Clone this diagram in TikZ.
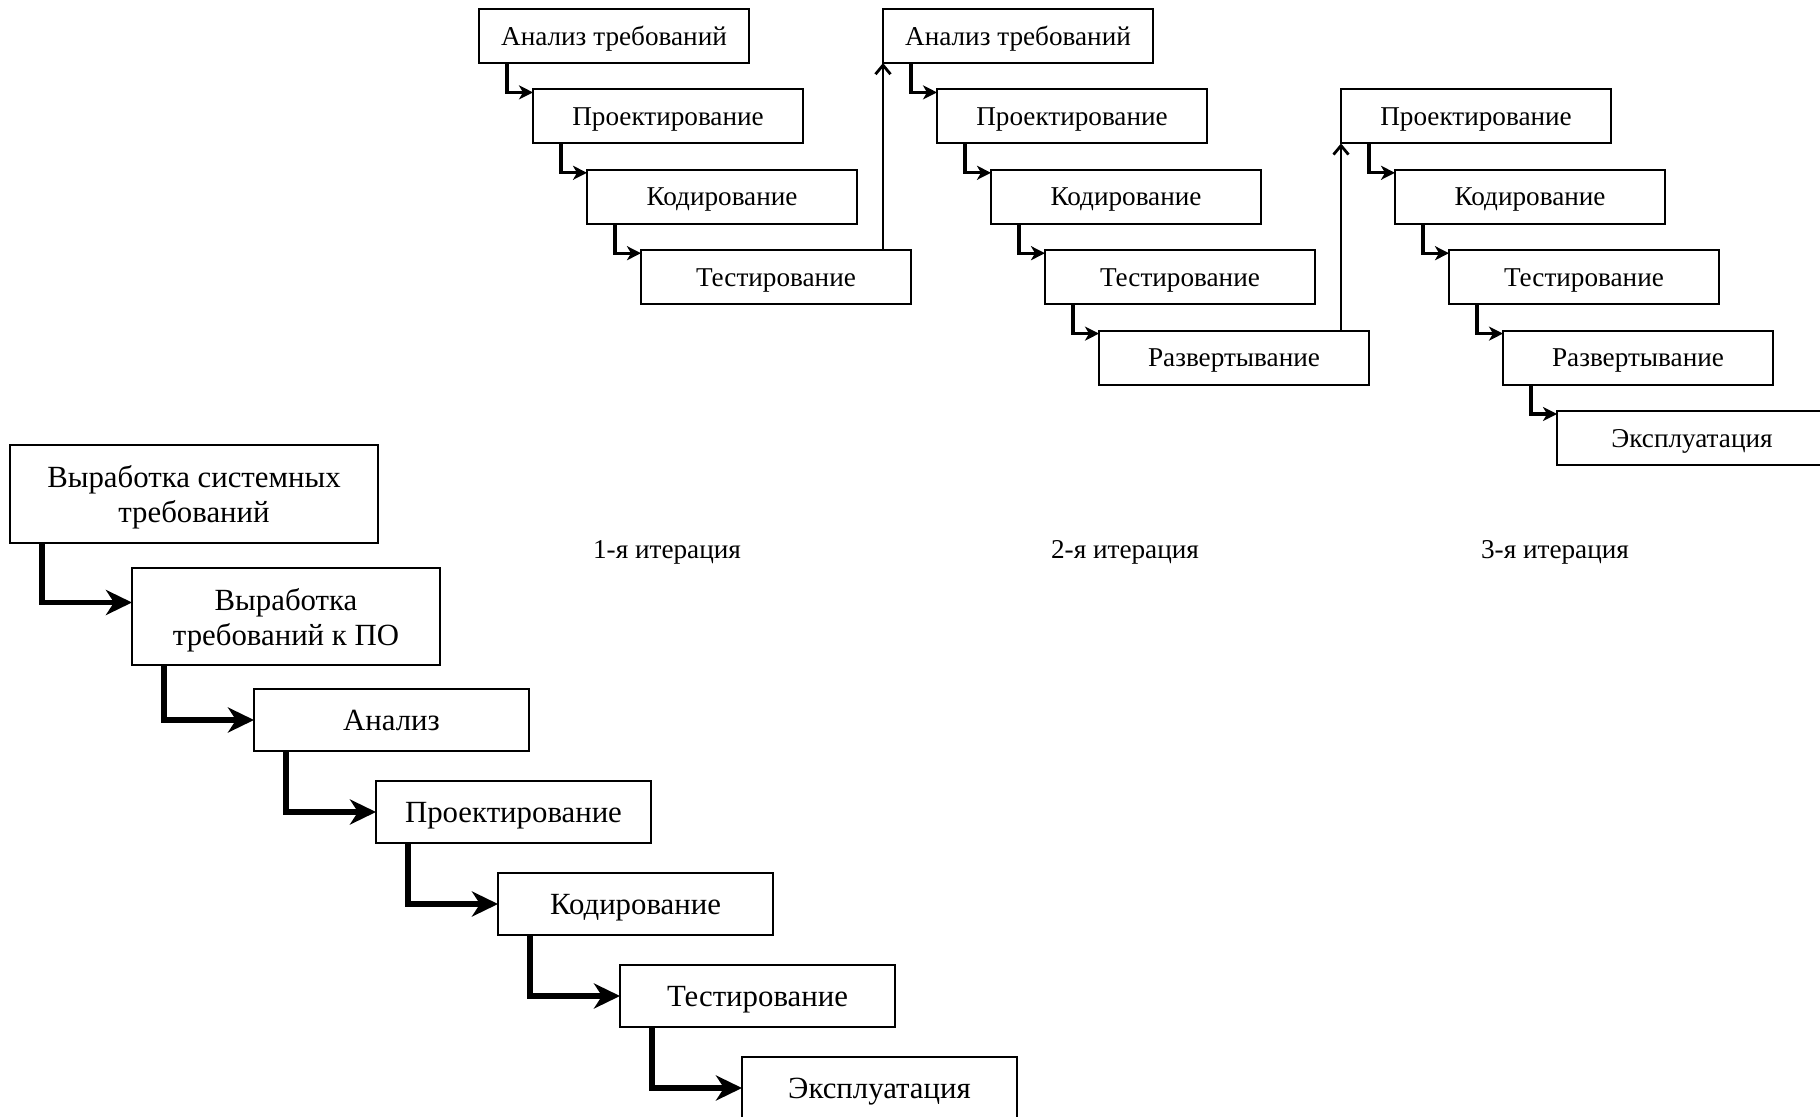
\documentclass[tikz,border=0pt]{standalone}
\usepackage{fontspec}
\setmainfont{Liberation Serif}
\usepackage{tikz}
\usetikzlibrary{arrows.meta,positioning,calc}

\begin{document}
\begin{tikzpicture}[
  stagebox/.style={draw, line width=1pt, outer sep=0pt, minimum width=135pt, minimum height=27pt, inner sep=0pt, text depth=0pt, anchor=north west, font=\fontsize{13.6}{16}\selectfont},
  waterbox/.style={draw, line width=1pt, outer sep=0pt, minimum width=137.5pt, minimum height=31pt, inner sep=0pt, text depth=0pt, anchor=north west, align=center, font=\fontsize{15.4}{17.5}\selectfont},
  steparrow/.style={line width=1.6pt, -{Stealth[length=7pt, width=7pt, inset=2pt]}},
  backarrow/.style={line width=1.4pt, -{Straight Barb[length=4.5pt, width=7.5pt]}},
  bigarrow/.style={line width=2.6pt, -{Stealth[length=13pt, width=12.5pt, inset=4pt]}},
  every node/.style={text=black}]
  \useasboundingbox (0,0) rectangle (910pt,-558.5pt);

  % iterations
  \node[stagebox] (a1) at (239.5pt,-4.5pt) {Анализ требований};
  \node[stagebox, below right=13.2pt and 27pt of a1.south west] (p1) {Проектирование};
  \node[stagebox, below right=13.2pt and 27pt of p1.south west] (k1) {Кодирование};
  \node[stagebox, below right=13.2pt and 27pt of k1.south west] (t1) {Тестирование};

  \node[stagebox, anchor=west, right=67pt of a1] (a2) {Анализ требований};
  \node[stagebox, below right=13.2pt and 27pt of a2.south west] (p2) {Проектирование};
  \node[stagebox, below right=13.2pt and 27pt of p2.south west] (k2) {Кодирование};
  \node[stagebox, below right=13.2pt and 27pt of k2.south west] (t2) {Тестирование};
  \node[stagebox, below right=13.2pt and 27pt of t2.south west] (r2) {Развертывание};

  \node[stagebox, anchor=west, right=67pt of p2] (p3) {Проектирование};
  \node[stagebox, below right=13.2pt and 27pt of p3.south west] (k3) {Кодирование};
  \node[stagebox, below right=13.2pt and 27pt of k3.south west] (t3) {Тестирование};
  \node[stagebox, below right=13.2pt and 27pt of t3.south west] (r3) {Развертывание};
  \node[stagebox, below right=13.2pt and 27pt of r3.south west] (e3) {Эксплуатация};

  \draw[steparrow] ([xshift=14pt]a1.south west) |- ([yshift=-1.5pt]p1.north west);
  \draw[steparrow] ([xshift=14pt]p1.south west) |- ([yshift=-1.5pt]k1.north west);
  \draw[steparrow] ([xshift=14pt]k1.south west) |- ([yshift=-1.5pt]t1.north west);
  \draw[steparrow] ([xshift=14pt]a2.south west) |- ([yshift=-1.5pt]p2.north west);
  \draw[steparrow] ([xshift=14pt]p2.south west) |- ([yshift=-1.5pt]k2.north west);
  \draw[steparrow] ([xshift=14pt]k2.south west) |- ([yshift=-1.5pt]t2.north west);
  \draw[steparrow] ([xshift=14pt]t2.south west) |- ([yshift=-1.5pt]r2.north west);
  \draw[steparrow] ([xshift=14pt]p3.south west) |- ([yshift=-1.5pt]k3.north west);
  \draw[steparrow] ([xshift=14pt]k3.south west) |- ([yshift=-1.5pt]t3.north west);
  \draw[steparrow] ([xshift=14pt]t3.south west) |- ([yshift=-1.5pt]r3.north west);
  \draw[steparrow] ([xshift=14pt]r3.south west) |- ([yshift=-1.5pt]e3.north west);

  \draw[backarrow] (t1.north -| a2.south west) -- (a2.south west);
  \draw[backarrow] (r2.north -| p3.south west) -- (p3.south west);

  \node[font=\fontsize{13.6}{16}\selectfont] (it1) at (333.5pt,-276pt) {1-я итерация};
  \node[font=\fontsize{13.6}{16}\selectfont] (it2) at (562.5pt,-276pt) {2-я итерация};
  \node[font=\fontsize{13.6}{16}\selectfont] (it3) at (777.5pt,-276pt) {3-я итерация};

  % waterfall
  \node[waterbox, minimum width=184pt, minimum height=49pt] (b1) at (5pt,-222.5pt) {Выработка системных\\требований};
  \node[waterbox, minimum width=154pt, minimum height=48.5pt, below right=12.5pt and 61pt of b1.south west] (b2) {Выработка\\требований к ПО};
  \node[waterbox, below right=12pt and 61pt of b2.south west] (b3) {Анализ};
  \node[waterbox, below right=15pt and 61pt of b3.south west] (b4) {Проектирование};
  \node[waterbox, below right=15pt and 61pt of b4.south west] (b5) {Кодирование};
  \node[waterbox, below right=15pt and 61pt of b5.south west] (b6) {Тестирование};
  \node[waterbox, below right=15pt and 61pt of b6.south west] (b7) {Эксплуатация};

  \draw[bigarrow] ([xshift=16pt]b1.south west) |- ([yshift=7pt]b2.west);
  \draw[bigarrow] ([xshift=16pt]b2.south west) |- (b3.west);
  \draw[bigarrow] ([xshift=16pt]b3.south west) |- (b4.west);
  \draw[bigarrow] ([xshift=16pt]b4.south west) |- (b5.west);
  \draw[bigarrow] ([xshift=16pt]b5.south west) |- (b6.west);
  \draw[bigarrow] ([xshift=16pt]b6.south west) |- (b7.west);
\end{tikzpicture}
\end{document}
